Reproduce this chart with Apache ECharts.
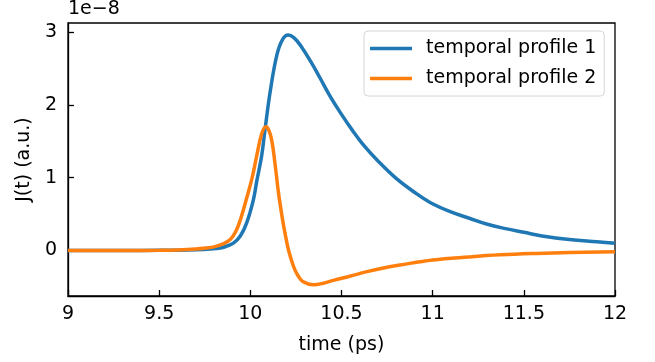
<!DOCTYPE html>
<html>
<head>
<meta charset="utf-8">
<script src="https://cdn.jsdelivr.net/npm/echarts@6/dist/echarts.min.js"></script>
<style>
  html, body { margin: 0; padding: 0; background: #fff; }
  #chart { width: 655px; height: 362px; }
</style>
</head>
<body>
<div id="chart"></div>
<script>
// values in units of 1e-8
const profile1 = [
  [9.0, 0], [9.3, 0], [9.5, 0.002], [9.6, 0.005], [9.7, 0.012], [9.78, 0.022],
  [9.835, 0.035], [9.87, 0.06], [9.907, 0.10], [9.945, 0.2], [9.98, 0.38],
  [10.017, 0.7], [10.035, 0.95], [10.062, 1.3], [10.08, 1.65], [10.11, 2.2],
  [10.145, 2.68], [10.175, 2.89], [10.207, 2.96], [10.24, 2.92], [10.28, 2.8],
  [10.33, 2.6], [10.38, 2.38], [10.437, 2.12], [10.5, 1.87], [10.56, 1.65],
  [10.62, 1.45], [10.7, 1.23], [10.8, 0.99], [10.9, 0.8], [10.986, 0.66],
  [11.1, 0.53], [11.205, 0.44], [11.3, 0.36], [11.4, 0.3], [11.5, 0.25],
  [11.6, 0.2], [11.75, 0.15], [11.9, 0.12], [12.0, 0.10]
]
const profile2 = [
  [9.0, 0], [9.3, 0], [9.5, 0.003], [9.6, 0.008], [9.7, 0.02], [9.76, 0.035],
  [9.8, 0.05], [9.85, 0.09], [9.89, 0.15], [9.92, 0.26], [9.945, 0.42],
  [9.98, 0.72], [10.01, 1.0], [10.035, 1.3], [10.062, 1.6], [10.085, 1.70],
  [10.1, 1.66], [10.117, 1.52], [10.135, 1.2], [10.154, 0.8], [10.175, 0.45],
  [10.19, 0.24], [10.21, 0.0], [10.237, -0.22], [10.26, -0.34], [10.29, -0.43],
  [10.346, -0.47], [10.4, -0.45], [10.455, -0.41], [10.55, -0.35], [10.64, -0.29],
  [10.73, -0.24], [10.82, -0.2], [11.0, -0.13], [11.2, -0.088], [11.37, -0.06],
  [11.57, -0.04], [11.75, -0.028], [12.0, -0.016]
]
const yTicks = [0, 1, 2, 3]
const seriesNames = ['temporal profile 1', 'temporal profile 2']

const font = 'DejaVu Sans'
const fs = 19
const chart = echarts.init(document.getElementById('chart'))

const option = {
  animation: false,
  textStyle: { fontFamily: font },
  graphic: [{
    type: 'text',
    left: 68,
    top: 0,
    style: { text: '1e\u22128', font: fs + 'px "DejaVu Sans"', fill: '#000' }
  }],
  grid: {
    left: 68, right: 40, top: 23, bottom: 66,
    show: true, borderColor: '#000', borderWidth: 1.3
  },
  legend: {
    orient: 'vertical',
    left: 364,
    top: 31,
    data: seriesNames,
    icon: 'rect',
    itemWidth: 42,
    itemHeight: 3.5,
    itemGap: 11,
    padding: [8, 8, 8, 6],
    borderColor: '#d6d6d6',
    borderWidth: 1,
    borderRadius: 4,
    backgroundColor: 'rgba(255,255,255,0.8)',
    textStyle: { fontFamily: font, fontSize: fs, color: '#000', padding: [0, 0, 0, 9] }
  },
  xAxis: {
    type: 'value',
    min: 9, max: 12, interval: 0.5,
    name: 'time (ps)',
    nameLocation: 'middle',
    nameGap: 40,
    nameTextStyle: { fontFamily: font, fontSize: fs, color: '#000' },
    axisLine: { show: true, onZero: false, lineStyle: { color: '#000', width: 1.3 } },
    axisTick: { show: true, inside: true, length: 6, lineStyle: { color: '#000', width: 1.3 } },
    axisLabel: { fontFamily: font, fontSize: fs, color: '#000', margin: 9 },
    splitLine: { show: false }
  },
  yAxis: {
    type: 'value',
    min: -0.625, max: 3.125,
    name: 'J(t) (a.u.)',
    nameLocation: 'middle',
    nameGap: 32,
    nameTextStyle: { fontFamily: font, fontSize: fs, color: '#000' },
    axisLine: { show: true, onZero: false, lineStyle: { color: '#000', width: 1.3 } },
    axisTick: { show: true, inside: true, length: 6, customValues: yTicks, lineStyle: { color: '#000', width: 1.3 } },
    axisLabel: { fontFamily: font, fontSize: fs, color: '#000', margin: 11, customValues: yTicks },
    splitLine: { show: false }
  },
  series: [
    {
      name: seriesNames[0],
      type: 'line',
      data: profile1,
      showSymbol: false,
      smooth: 0.4,
      itemStyle: { color: '#1f77b4' },
      lineStyle: { color: '#1f77b4', width: 3.5 }
    },
    {
      name: seriesNames[1],
      type: 'line',
      data: profile2,
      showSymbol: false,
      smooth: 0.4,
      itemStyle: { color: '#ff7f0e' },
      lineStyle: { color: '#ff7f0e', width: 3.5 }
    }
  ]
}

chart.setOption(option)
</script>
</body>
</html>
